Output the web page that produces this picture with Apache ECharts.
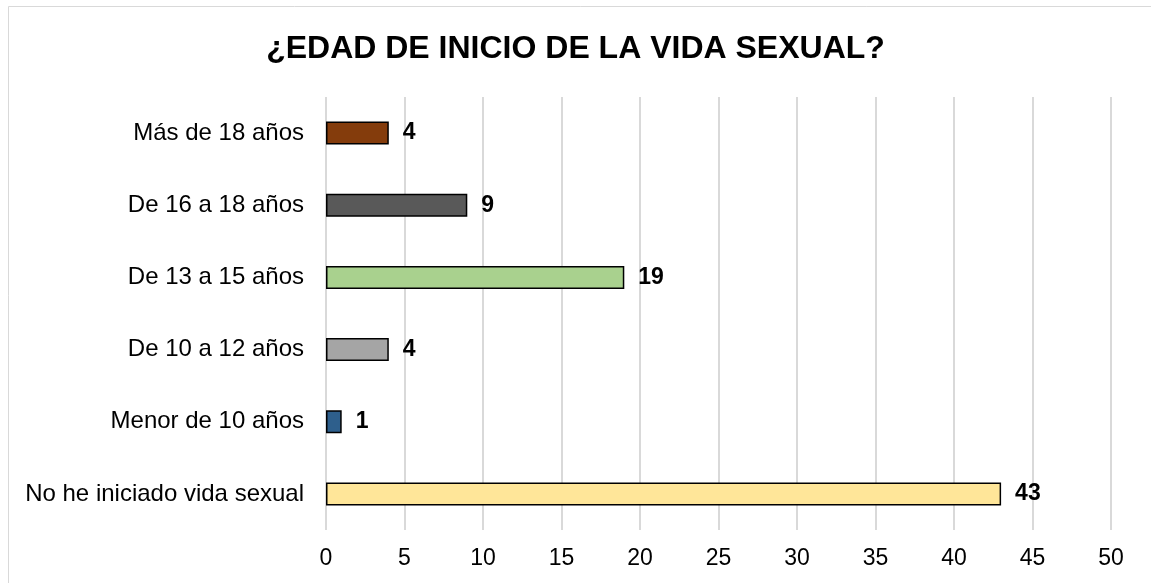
<!DOCTYPE html>
<html>
<head>
<meta charset="utf-8">
<script src="https://cdn.jsdelivr.net/npm/echarts@6/dist/echarts.min.js"></script>
<style>
  html, body { margin: 0; padding: 0; background: #fff; }
  #chart { width: 1151px; height: 583px; }
</style>
</head>
<body>
<div id="chart"></div>
<script>
// datos (de abajo hacia arriba)
const categories = ['No he iniciado vida sexual', 'Menor de 10 años', 'De 10 a 12 años',
  'De 13 a 15 años', 'De 16 a 18 años', 'Más de 18 años'];
const values = [43, 1, 4, 19, 9, 4];
const barColors = ['#FFE699', '#2E5F8C', '#A5A5A5', '#A9D18E', '#595959', '#843C0C'];

const FONT = 'Liberation Sans, Arial, sans-serif';
const chart = echarts.init(document.getElementById('chart'));
chart.setOption({
  animation: false,
  backgroundColor: '#fff',
  title: {
    text: '¿EDAD DE INICIO DE LA VIDA SEXUAL?',
    left: 'center', top: 28,
    textStyle: { fontFamily: FONT, fontSize: 32, fontWeight: 'bold', color: '#000' }
  },
  graphic: [{
    type: 'rect', shape: { x: 8.5, y: 6.5, width: 1160, height: 600 },
    style: { fill: 'none', stroke: '#D9D9D9', lineWidth: 1 }, silent: true
  }],
  grid: { left: 326, right: 40, top: 97, bottom: 53, containLabel: false },
  xAxis: {
    type: 'value', min: 0, max: 50, interval: 5,
    axisLine: { show: false }, axisTick: { show: false },
    axisLabel: { fontFamily: FONT, fontSize: 23, color: '#000', margin: 17 },
    splitLine: { lineStyle: { color: '#D9D9D9', width: 2 } }
  },
  yAxis: {
    type: 'category', data: categories,
    axisLine: { show: false }, axisTick: { show: false },
    axisLabel: { fontFamily: FONT, fontSize: 24, color: '#000', margin: 22 }
  },
  series: [{
    type: 'bar', barWidth: 23,
    data: values.map((v, i) => ({ value: v, itemStyle: { color: barColors[i] } })),
    itemStyle: { borderColor: '#000', borderWidth: 1.5 },
    label: {
      show: true, position: 'right', distance: 14,
      fontFamily: FONT, fontSize: 23, fontWeight: 'bold', color: '#000'
    }
  }]
});
</script>
</body>
</html>
